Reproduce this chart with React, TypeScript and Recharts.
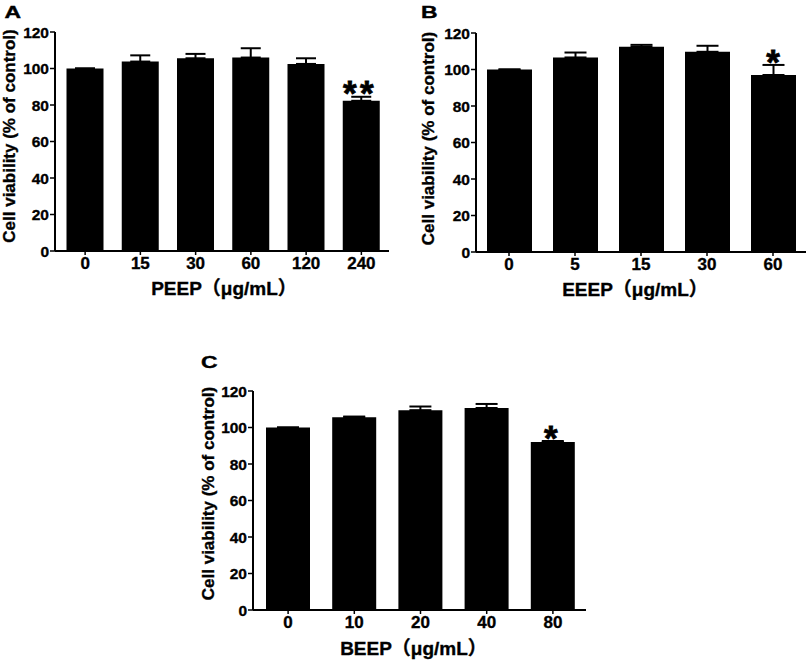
import React from 'react';
import { BarChart, Bar, XAxis, YAxis, ErrorBar, LabelList, Label } from 'recharts';

const FONT = "'Liberation Sans', Arial, 'Noto Sans CJK SC', sans-serif";

// Panel A: PEEP
const doseA = ['0', '15', '30', '60', '120', '240'];
const meanA = [100, 103.8, 105.6, 106, 102.5, 82.3];
const sdA = [0, 3.4, 2.4, 5.1, 3.1, 2.2];
const sigA = ['', '', '', '', '', '**'];

// Panel B: EEEP
const doseB = ['0', '5', '15', '30', '60'];
const meanB = [100, 106.6, 112.4, 109.7, 97];
const sdB = [0, 2.7, 1.1, 3.3, 5.5];
const sigB = ['', '', '', '', '*'];

// Panel C: BEEP
const doseC = ['0', '10', '20', '40', '80'];
const meanC = [100, 105.6, 109.5, 110.7, 92.1];
const sdC = [0, 0.4, 2.0, 2.2, 0.5];
const sigC = ['', '', '', '', '*'];

const yTicks = [0, 20, 40, 60, 80, 100, 120];

const build = (dose: string[], mean: number[], sd: number[], sig: string[]) =>
  dose.map((d, i) => ({ dose: d, mean: mean[i], err: [0, sd[i]], sig: sig[i] }));

type PanelProps = {
  dose: string[];
  mean: number[];
  sd: number[];
  sig: string[];
  left: number;
  top: number;
  width: number;
  height: number;
  marginTop: number;
  marginRight: number;
  yAxisWidth: number;
  xHeight: number;
  barSize: number;
  padLeft: number;
  capHalf: number;
  starDx: number;
  xTitle: string;
  xTitleY: number;
  xTitleDx: number;
  yTitleX: number;
  yTitleDy: number;
};

const STAR_FS = 35;
const STAR_GAP = 17;
const HEAVY = { stroke: '#000', strokeWidth: 0.35 };

const Panel = (p: PanelProps) => {
  const data = build(p.dose, p.mean, p.sd, p.sig);
  const starContent = (props: any) => {
    const { x, y, width, height, index } = props;
    const s: string = p.sig[index];
    if (!s) return null;
    const perUnit = height / p.mean[index];
    const errTop = y - p.sd[index] * perUnit;
    const baseline = errTop - 4 + STAR_FS * 0.36;
    const cx = x + width / 2 + p.starDx;
    const chars = s.split('');
    const n = chars.length;
    return (
      <g>
        {chars.map((c, k) => (
          <text
            key={k}
            x={cx + (k - (n - 1) / 2) * STAR_GAP}
            y={baseline}
            textAnchor="middle"
            fontFamily={FONT}
            fontWeight="bold"
            fontSize={STAR_FS}
            fill="#000"
            stroke="#000"
            strokeWidth={0.8}
          >
            {c}
          </text>
        ))}
      </g>
    );
  };
  const xTitle = (props: any) => {
    const vb = props.viewBox || {};
    const cx = vb.x + vb.width / 2 + p.xTitleDx;
    return (
      <text x={cx} y={p.xTitleY} textAnchor="middle" fontFamily={FONT} fontWeight="bold" fontSize={19} fill="#000" {...HEAVY}>
        {p.xTitle}
      </text>
    );
  };
  const yTitle = (props: any) => {
    const vb = props.viewBox || {};
    const cy = vb.y + vb.height / 2 + p.yTitleDy;
    const X = p.yTitleX;
    return (
      <text
        x={X}
        y={cy}
        transform={`rotate(-90 ${X} ${cy})`}
        textAnchor="middle"
        fontFamily={FONT}
        fontWeight="bold"
        fontSize={17}
        fill="#000"
        {...HEAVY}
      >
        Cell viability (% of control)
      </text>
    );
  };
  return (
    <div style={{ position: 'absolute', left: p.left, top: p.top }}>
      <BarChart
        width={p.width}
        height={p.height}
        data={data}
        margin={{ top: p.marginTop, right: p.marginRight, left: 0, bottom: 0 }}
      >
        <XAxis
          dataKey="dose"
          height={p.xHeight}
          padding={{ left: p.padLeft, right: 0 }}
          axisLine={{ stroke: '#000', strokeWidth: 2 }}
          tickLine={{ stroke: '#000', strokeWidth: 1.5 }}
          tickSize={4}
          tickMargin={2}
          tick={{ fill: '#000', fontFamily: FONT, fontWeight: 'bold', fontSize: 17, ...HEAVY }}
          interval={0}
        >
          <Label content={xTitle} />
        </XAxis>
        <YAxis
          width={p.yAxisWidth}
          domain={[0, 120]}
          ticks={yTicks}
          interval={0}
          axisLine={{ stroke: '#000', strokeWidth: 2 }}
          tickLine={{ stroke: '#000', strokeWidth: 1.5 }}
          tickSize={5}
          tickMargin={1}
          tick={{ fill: '#000', fontFamily: FONT, fontWeight: 'bold', fontSize: 15.5, ...HEAVY }}
        >
          <Label content={yTitle} />
        </YAxis>
        <Bar dataKey="mean" fill="#000" barSize={p.barSize} isAnimationActive={false}>
          <ErrorBar dataKey="err" width={p.capHalf} stroke="#000" strokeWidth={2} direction="y" isAnimationActive={false} />
          <LabelList dataKey="sig" content={starContent} />
        </Bar>
      </BarChart>
    </div>
  );
};

const Letter = ({ x, y, t }: { x: number; y: number; t: string }) => (
  <text
    x={x}
    y={y}
    fontFamily={FONT}
    fontWeight="bold"
    fontSize={17}
    transform={`translate(${x} 0) scale(1.35 1) translate(${-x} 0)`}
    fill="#000"
    stroke="#000"
    strokeWidth={0.4}
  >
    {t}
  </text>
);

const Letters = () => (
  <svg width={809} height={666} style={{ position: 'absolute', left: 0, top: 0, pointerEvents: 'none' }}>
    <Letter x={4.5} y={18.5} t="A" />
    <Letter x={421} y={18.5} t="B" />
    <Letter x={201} y={368.5} t="C" />
  </svg>
);

export default function App() {
  return (
    <div style={{ position: 'absolute', left: 0, top: 0, width: 809, height: 666, background: '#fff', overflow: 'hidden' }}>
      <Panel
        dose={doseA} mean={meanA} sd={sdA} sig={sigA}
        left={0} top={0} width={400} height={300}
        marginTop={32} marginRight={11} yAxisWidth={55} xHeight={49}
        barSize={37} padLeft={2.5} capHalf={10} starDx={-3}
        xTitle="PEEP（μg/mL）" xTitleY={295} xTitleDx={2}
        yTitleX={14.8} yTitleDy={-5.5}
      />
      <Panel
        dose={doseB} mean={meanB} sd={sdB} sig={sigB}
        left={400} top={0} width={409} height={300}
        marginTop={33} marginRight={3} yAxisWidth={76} xHeight={48}
        barSize={45} padLeft={0} capHalf={11} starDx={-0.5}
        xTitle="EEEP（μg/mL）" xTitleY={296} xTitleDx={-6}
        yTitleX={34.3} yTitleDy={-4}
      />
      <Panel
        dose={doseC} mean={meanC} sd={sdC} sig={sigC}
        left={180} top={340} width={420} height={326}
        marginTop={51} marginRight={14} yAxisWidth={73} xHeight={56}
        barSize={44} padLeft={2} capHalf={11} starDx={-2}
        xTitle="BEEP（μg/mL）" xTitleY={315} xTitleDx={-6}
        yTitleX={34.3} yTitleDy={-7}
      />
      <Letters />
    </div>
  );
}
